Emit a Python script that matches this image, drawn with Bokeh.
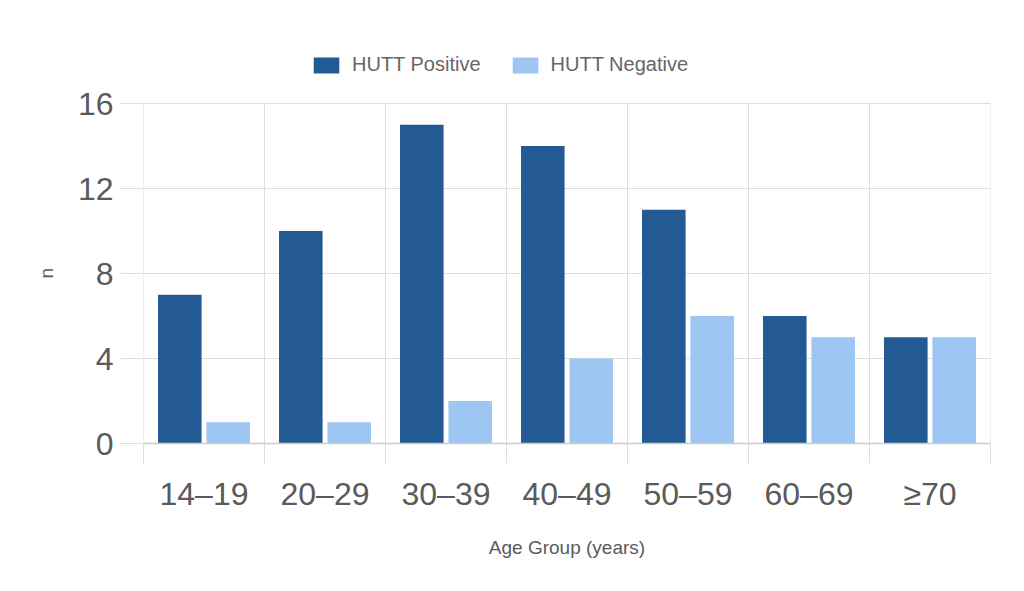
from bokeh.plotting import figure
from bokeh.models import ColumnDataSource, FixedTicker, Legend, LegendItem, Range1d, Title
from bokeh.embed import file_html
from bokeh.resources import INLINE

age_groups = ["14–19", "20–29", "30–39", "40–49", "50–59", "60–69", "≥70"]
hutt_positive = [7, 10, 15, 14, 11, 6, 5]
hutt_negative = [1, 1, 2, 4, 6, 5, 5]
y_ticks = [0, 4, 8, 12, 16]

DARK = "#245A93"
LIGHT = "#9DC7F2"
TXT = "#5a5a5a"
GRID = "#dddddd"
FONT = "Liberation Sans"

n = len(age_groups)
centers = [i + 0.5 for i in range(n)]
bounds = list(range(n + 1))
src = ColumnDataSource(dict(
    xp=[c - 0.2 for c in centers],
    xn=[c + 0.2 for c in centers],
    pos=hutt_positive,
    neg=hutt_negative,
))

# frame spans from y=40 to y=443 (px); value 16 sits at y=103
FRAME_TOP, ZERO_Y, TOP_Y = 40, 443, 103
y_end = y_ticks[-1] * (ZERO_Y - FRAME_TOP) / (ZERO_Y - TOP_Y)

p = figure(width=1008, height=575, output_backend="svg", toolbar_location=None,
           x_range=Range1d(0, n), y_range=Range1d(0, y_end),
           min_border_left=143, min_border_right=18,
           min_border_top=FRAME_TOP, min_border_bottom=575 - ZERO_Y)
p.outline_line_color = None
p.background_fill_color = "white"
p.border_fill_color = "white"

# grids
p.xgrid.visible = False
p.segment(x0=bounds, y0=[0] * len(bounds), x1=bounds, y1=[y_ticks[-1]] * len(bounds),
          line_color=GRID, line_width=1)
p.ygrid.ticker = FixedTicker(ticks=y_ticks)
p.ygrid.grid_line_color = GRID

rp = p.vbar(x="xp", top="pos", bottom=0, width=0.36, source=src,
            fill_color=DARK, line_color=None)
rn = p.vbar(x="xn", top="neg", bottom=0, width=0.36, source=src,
            fill_color=LIGHT, line_color=None)

# x axis
xa = p.xaxis[0]
xa.ticker = FixedTicker(ticks=centers, minor_ticks=bounds)
xa.major_label_overrides = {c: lab for c, lab in zip(centers, age_groups)}
xa.major_tick_out = 0
xa.major_tick_in = 0
xa.minor_tick_out = 20
xa.minor_tick_in = 0
xa.minor_tick_line_color = GRID
xa.axis_line_color = "#cccccc"
xa.axis_line_width = 1.5
xa.major_label_standoff = 12
xa.major_label_text_font = FONT
xa.major_label_text_font_size = "32px"
xa.major_label_text_color = TXT
xa.axis_label = "Age Group (years)"
xa.axis_label_text_font = FONT
xa.axis_label_text_font_size = "19px"
xa.axis_label_text_font_style = "normal"
xa.axis_label_text_color = TXT
xa.axis_label_standoff = 22

# y axis
ya = p.yaxis[0]
ya.ticker = FixedTicker(ticks=y_ticks)
ya.axis_line_color = None
ya.major_tick_out = 23
ya.major_tick_in = 0
ya.major_tick_line_color = GRID
ya.minor_tick_line_color = None
ya.major_label_standoff = 7
ya.major_label_text_font = FONT
ya.major_label_text_font_size = "32px"
ya.major_label_text_color = TXT

# y-axis title, placed beside the middle of the 0..16 part of the frame
ytitle = Title(text="n", align="left", offset=165, standoff=35,
               text_font=FONT, text_font_size="19px", text_font_style="normal",
               text_color=TXT)
p.add_layout(ytitle, "left")

legend = Legend(items=[LegendItem(label="HUTT Positive", renderers=[rp]),
                       LegendItem(label="HUTT Negative", renderers=[rn])],
                orientation="horizontal", location=(167, 367),
                glyph_width=32, glyph_height=20, label_standoff=10, spacing=28,
                padding=0, margin=0, border_line_color=None,
                background_fill_alpha=0,
                label_text_font=FONT, label_text_font_size="20px",
                label_text_color="#666666")
p.add_layout(legend, "center")

open("out.html", "w").write(file_html(p, INLINE))
